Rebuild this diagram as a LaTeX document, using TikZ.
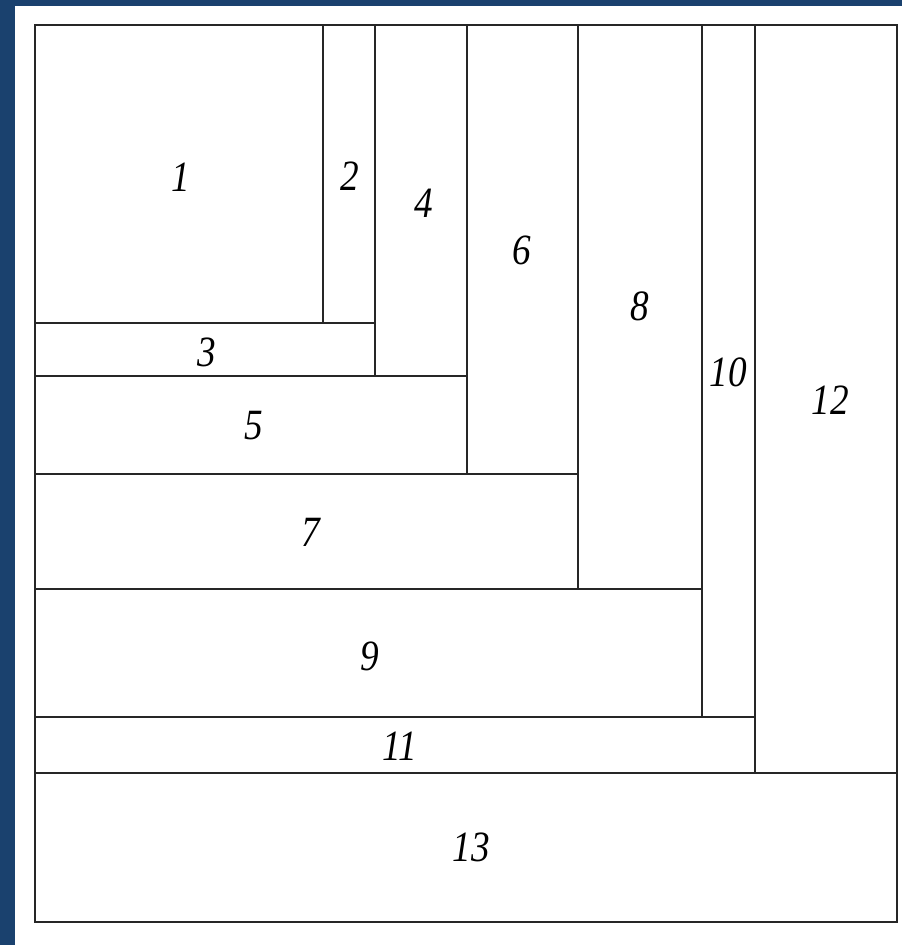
\documentclass[tikz,border=0pt]{standalone}
\usepackage{fontspec}
\setmainfont{Liberation Serif}
\definecolor{bgblue}{HTML}{1A416E}
\begin{document}
\begin{tikzpicture}[x=1pt,y=-1pt,
  cell/.style={draw=black!85,line width=1.8pt},
  lbl/.style={inner sep=0pt,font=\fontsize{40}{40}\selectfont\itshape,xscale=0.93,yscale=1.08}]
\fill[bgblue] (0,0) rectangle (902,945);
\fill[white] (15,6) rectangle (902,945);
\useasboundingbox (0,0) rectangle (902,945);
% cells
\draw[cell] (35,25) rectangle (323,323);
\draw[cell] (323,25) rectangle (375,323);
\draw[cell] (35,323) rectangle (375,376);
\draw[cell] (375,25) rectangle (467,376);
\draw[cell] (35,376) rectangle (467,474);
\draw[cell] (467,25) rectangle (578,474);
\draw[cell] (35,474) rectangle (578,589);
\draw[cell] (578,25) rectangle (702,589);
\draw[cell] (35,589) rectangle (702,717);
\draw[cell] (702,25) rectangle (755,717);
\draw[cell] (35,717) rectangle (755,773);
\draw[cell] (755,25) rectangle (897,773);
\draw[cell] (35,773) rectangle (897,922);
% labels
\node[lbl] (n1) at (181,177) {1};
\node[lbl] (n2) at (350,176) {2};
\node[lbl] (n3) at (207,352) {3};
\node[lbl] (n4) at (424,203) {4};
\node[lbl] (n5) at (254,426) {5};
\node[lbl] (n6) at (522,250) {6};
\node[lbl] (n7) at (311,532) {7};
\node[lbl] (n8) at (640,306) {8};
\node[lbl] (n9) at (370,656) {9};
\node[lbl] (n10) at (728,372) {10};
\node[lbl] (n11) at (400,746) {11};
\node[lbl] (n12) at (830,400) {12};
\node[lbl] (n13) at (471,847) {13};
\end{tikzpicture}
\end{document}
